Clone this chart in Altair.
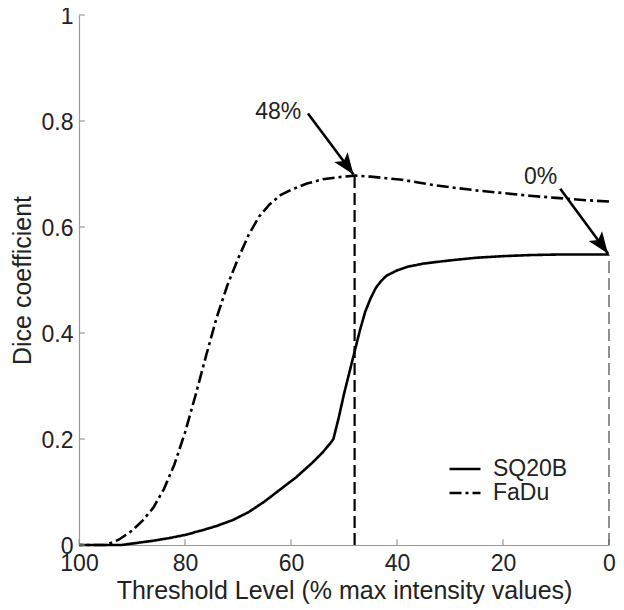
import altair as alt
import pandas as pd

FONT = "Liberation Sans"

# ---- data ----
series_names = ["SQ20B", "FaDu"]

sq_x = [100, 92, 89, 86, 83, 80, 77, 74, 71, 68, 65, 62, 59, 56, 54, 52.5, 52, 51, 50, 49, 48,
        47, 46, 45, 44, 43, 42, 40, 38, 35, 30, 25, 20, 15, 10, 5, 0]
sq_y = [0, 0, 0.004, 0.008, 0.013, 0.019, 0.027, 0.036, 0.047, 0.062, 0.082, 0.105, 0.128,
        0.155, 0.175, 0.193, 0.2, 0.24, 0.285, 0.325, 0.365, 0.405, 0.44, 0.465, 0.485, 0.498,
        0.508, 0.518, 0.525, 0.531, 0.537, 0.542, 0.545, 0.547, 0.548, 0.548, 0.548]

fadu_x = [100, 95, 92.5, 90, 88, 86, 84, 82, 80, 78, 76, 74, 72, 70, 68, 66, 64, 62, 60, 57,
          54, 51, 48, 45, 42, 39, 36, 33, 30, 25, 20, 15, 10, 5, 0]
fadu_y = [0, 0, 0.01, 0.027, 0.046, 0.07, 0.105, 0.152, 0.212, 0.283, 0.358, 0.43, 0.49, 0.54,
          0.585, 0.62, 0.643, 0.66, 0.67, 0.682, 0.69, 0.694, 0.697, 0.695, 0.692, 0.689,
          0.684, 0.679, 0.675, 0.669, 0.664, 0.659, 0.655, 0.651, 0.648]

x_ticks = [100, 80, 60, 40, 20, 0]
y_ticks = [0, 0.2, 0.4, 0.6, 0.8, 1]

marker_x = [48, 0]
marker_top = [0.697, 0.548]

annot_labels = ["48%", "0%"]
annot_text_x = [62.4, 12.9]
annot_text_y = [0.817, 0.694]
arrow_start_x = [56.8, 9.2]
arrow_start_y = [0.814, 0.672]
arrow_end_x = [48.2, 0.2]
arrow_end_y = [0.699, 0.55]

X_TITLE = "Threshold Level (% max intensity values)"
Y_TITLE = "Dice coefficient"

# ---- tables ----
lines_df = pd.concat([
    pd.DataFrame({"x": sq_x, "y": sq_y, "series": series_names[0]}),
    pd.DataFrame({"x": fadu_x, "y": fadu_y, "series": series_names[1]}),
])
xt_df = pd.DataFrame({"x": x_ticks, "y": [0] * len(x_ticks), "y2": [0.011] * len(x_ticks)})
yt_df = pd.DataFrame({"y": y_ticks, "x": [100] * len(y_ticks), "x2": [98.9] * len(y_ticks)})
mk_df = pd.DataFrame({"x": marker_x, "y": [0, 0], "y2": marker_top})
ann_df = pd.DataFrame({"label": annot_labels, "tx": annot_text_x, "ty": annot_text_y,
                       "sx": arrow_start_x, "sy": arrow_start_y,
                       "ex": arrow_end_x, "ey": arrow_end_y})

xs = alt.Scale(domain=[0, 100], reverse=True, nice=False, zero=False)
ys = alt.Scale(domain=[0, 1], nice=False)

x_axis = alt.Axis(values=x_ticks, ticks=False, grid=False, labelFlush=False,
                  labelOverlap=False, labelPadding=7, titlePadding=3,
                  domainColor="#999999", domainWidth=1.2)
y_axis = alt.Axis(values=y_ticks, ticks=False, grid=False, format="~g",
                  labelFlush=False, labelOverlap=False, labelPadding=6, labelOffset=1,
                  titlePadding=6, domainColor="#999999", domainWidth=1.2)


def X(field):
    return alt.X(field, scale=xs, title=X_TITLE, axis=x_axis)


def Y(field):
    return alt.Y(field, scale=ys, title=Y_TITLE, axis=y_axis)


lines = alt.Chart(lines_df).mark_line(strokeWidth=2.6, color="black").encode(
    x=X("x:Q"),
    y=Y("y:Q"),
    strokeDash=alt.StrokeDash(
        "series:N", title=None,
        scale=alt.Scale(domain=series_names, range=[[1, 0], [12, 4, 3, 4]]),
        legend=alt.Legend(orient="none", legendX=369, legendY=442, symbolType="stroke",
                          symbolSize=961, symbolStrokeWidth=2.5, symbolStrokeColor="black",
                          labelFontSize=23, labelFont=FONT, labelColor="#222222",
                          labelOffset=11, rowPadding=0, clipHeight=24, padding=0)),
    order="x:Q",
)

xticks = alt.Chart(xt_df).mark_rule(color="#999999", strokeWidth=1.2).encode(
    x=X("x:Q"), y=Y("y:Q"), y2="y2:Q")
yticks = alt.Chart(yt_df).mark_rule(color="#999999", strokeWidth=1.2).encode(
    x=X("x:Q"), x2="x2:Q", y=Y("y:Q"))

mk48 = alt.Chart(mk_df.iloc[[0]]).mark_rule(color="black", strokeWidth=2.2,
                                            strokeDash=[12, 5]).encode(
    x=X("x:Q"), y=Y("y:Q"), y2="y2:Q")
mk0 = alt.Chart(mk_df.iloc[[1]]).mark_rule(color="#555555", strokeWidth=1.3,
                                           strokeDash=[12, 5]).encode(
    x=X("x:Q"), y=Y("y:Q"), y2="y2:Q")

arrow_lines = alt.Chart(ann_df).mark_rule(color="black", strokeWidth=2.6).encode(
    x=X("sx:Q"), y=Y("sy:Q"), x2="ex:Q", y2="ey:Q")
arrow_heads = alt.Chart(ann_df).mark_point(
    shape="M0,0 L-0.85,2.2 L0,1.7 L0.85,2.2 Z", size=380, angle=144, filled=True,
    color="black", opacity=1, strokeWidth=0).encode(
    x=X("ex:Q"), y=Y("ey:Q"))
arrow_text = alt.Chart(ann_df).mark_text(font=FONT, fontSize=23, color="#222222",
                                         align="center", baseline="middle").encode(
    x=X("tx:Q"), y=Y("ty:Q"), text="label:N")

chart = alt.layer(lines, xticks, yticks, mk48, mk0, arrow_lines, arrow_heads, arrow_text).properties(
    width=530, height=530,
    autosize="none",
    padding={"left": 71, "top": 7, "right": 7, "bottom": 62},
    background="white",
).configure_view(stroke=None).configure_axis(
    labelFont=FONT, titleFont=FONT, labelFontSize=23, titleFontSize=25,
    labelColor="#222222", titleColor="#222222", titleFontWeight="normal",
)

chart.save("out.html", embed_options={"renderer": "svg", "actions": False})
